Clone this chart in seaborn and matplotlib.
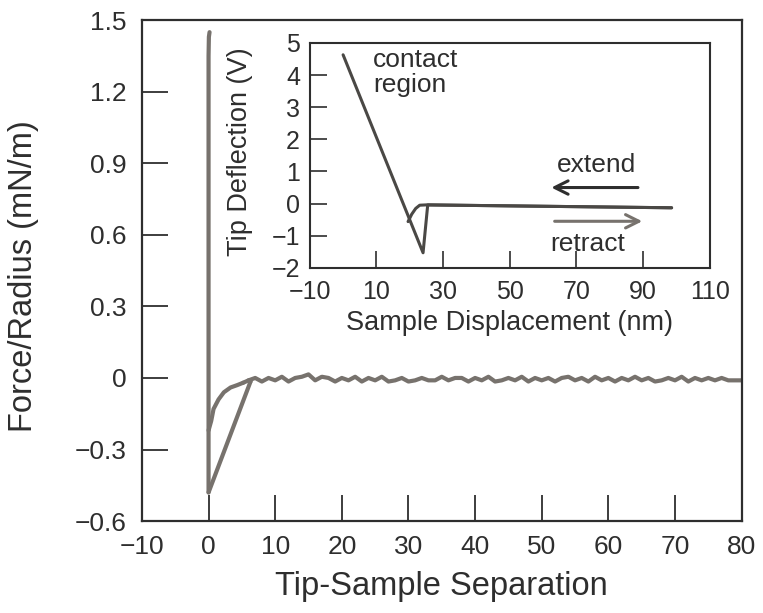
import matplotlib
matplotlib.use("Agg")
import matplotlib.pyplot as plt
import numpy as np
import pandas as pd
import seaborn as sns

sns.set_style("ticks")
plt.rcParams['font.family'] = ['Liberation Sans', 'DejaVu Sans']

# ---------------- main chart data ----------------
contact_x = [0.15, 0.05, 0.0, 0.0]
contact_y = [1.45, 1.43, 1.35, -0.48]
retract_x = [0.0, 6.3]
retract_y = [-0.48, -0.015]
extend_x = [0.0, 0.2, 0.4, 0.75, 1.5, 2.3, 3.3, 4.3, 5.2]
extend_y = [-0.22, -0.20, -0.18, -0.13, -0.09, -0.06, -0.04, -0.03, -0.02]
noise_x = list(range(6, 81))
noise_y = [-0.01, 0.0, -0.015, 0.0, -0.01, 0.005, -0.015, 0.0, 0.005, 0.015,
           -0.01, 0.005, 0.0, -0.015, 0.0, -0.01, 0.005, -0.015, 0.0, -0.01,
           0.005, -0.015, -0.01, 0.0, -0.015, -0.01, 0.0, -0.01, -0.01, 0.005,
           -0.01, 0.0, 0.0, -0.015, 0.0, -0.01, 0.005, -0.015, -0.01, 0.0,
           -0.01, 0.005, -0.015, 0.0, -0.01, 0.0, -0.015, 0.0, 0.005, -0.01,
           0.0, -0.015, 0.005, -0.01, 0.0, -0.015, 0.0, -0.01, 0.005, -0.01,
           0.0, -0.015, -0.01, 0.0, -0.01, 0.005, -0.015, 0.0, -0.01, 0.0,
           -0.01, 0.0, -0.01, -0.01, -0.01]
main_xticks = [-10, 0, 10, 20, 30, 40, 50, 60, 70, 80]
main_xtick_labels = ["\u221210", "0", "10", "20", "30", "40", "50", "60", "70", "80"]
main_yticks = [-0.6, -0.3, 0, 0.3, 0.6, 0.9, 1.2, 1.5]
main_ytick_labels = ["\u22120.6", "\u22120.3", "0", "0.3", "0.6", "0.9", "1.2", "1.5"]
main_xlabel = "Tip-Sample Separation"
main_ylabel = "Force/Radius (mN/m)"

# ---------------- inset data ----------------
in_retract_x = [0.0, 24.0, 25.4, 98.6]
in_retract_y = [4.63, -1.53, -0.04, -0.13]
in_extend_x = [98.6, 25.0, 23.0, 21.8, 20.6, 19.5]
in_extend_y = [-0.13, -0.04, -0.05, -0.15, -0.33, -0.56]
in_xticks = [-10, 10, 30, 50, 70, 90, 110]
in_xtick_labels = ["\u221210", "10", "30", "50", "70", "90", "110"]
in_yticks = [-2, -1, 0, 1, 2, 3, 4, 5]
in_ytick_labels = ["\u22122", "\u22121", "0", "1", "2", "3", "4", "5"]
in_xlabel = "Sample Displacement (nm)"
in_ylabel = "Tip Deflection (V)"

line_gray = "#77726d"
dark = "#2e2e2e"
inset_line = "#4a4845"

fig = plt.figure(figsize=(7.63, 6.13), dpi=100)
ax = fig.add_axes([0.186, 0.150, 0.786, 0.817])

def seg(a, xs, ys, color, lw):
    df = pd.DataFrame({"x": xs, "y": ys})
    sns.lineplot(data=df, x="x", y="y", sort=False, estimator=None, ax=a,
                 color=color, linewidth=lw, solid_joinstyle="round", solid_capstyle="round")

seg(ax, contact_x, contact_y, line_gray, 3.0)
seg(ax, retract_x, retract_y, line_gray, 3.0)
seg(ax, extend_x, extend_y, line_gray, 3.0)
seg(ax, [retract_x[-1]] + noise_x, [retract_y[-1]] + noise_y, line_gray, 3.0)
seg(ax, [extend_x[-1], noise_x[0]], [extend_y[-1], noise_y[0]], line_gray, 3.0)

ax.set_xlim(-10, 80)
ax.set_ylim(-0.6, 1.5)
ax.set_xticks(main_xticks)
ax.set_xticklabels(main_xtick_labels)
ax.set_yticks(main_yticks)
ax.set_yticklabels(main_ytick_labels)
ax.tick_params(direction="in", length=19, width=1.3, labelsize=19, pad=10,
               colors=dark, labelcolor=dark)
ax.tick_params(axis="y", pad=11)
ax.set_xlabel(main_xlabel, fontsize=23.5, color=dark, labelpad=9)
ax.set_ylabel(main_ylabel, fontsize=23.5, color=dark)
ax.yaxis.set_label_coords(-0.172, 0.489)
for s in ax.spines.values():
    s.set_visible(True)
    s.set_linewidth(1.6)
    s.set_color(dark)

# ---------------- inset ----------------
ax2 = fig.add_axes([0.406, 0.563, 0.524, 0.367])
seg(ax2, in_retract_x, in_retract_y, inset_line, 2.2)
seg(ax2, in_extend_x, in_extend_y, inset_line, 2.2)
ax2.set_xlim(-10, 110)
ax2.set_ylim(-2, 5)
ax2.set_xticks(in_xticks)
ax2.set_xticklabels(in_xtick_labels)
ax2.set_yticks(in_yticks)
ax2.set_yticklabels(in_ytick_labels)
ax2.tick_params(direction="in", length=12, width=1.2, labelsize=18, pad=9,
                colors=dark, labelcolor=dark)
ax2.tick_params(axis="y", pad=7)
ax2.set_xlabel(in_xlabel, fontsize=19.5, color=dark, labelpad=4)
ax2.set_ylabel(in_ylabel, fontsize=19.5, color=dark)
ax2.yaxis.set_label_coords(-0.1425, 0.516)
for s in ax2.spines.values():
    s.set_visible(True)
    s.set_linewidth(1.5)
    s.set_color(dark)

ax2.text(9, 4.85, "contact\nregion", fontsize=19, color=dark, va="top", ha="left",
         linespacing=1.05)
ax2.text(76, 1.2, "extend", fontsize=19, color=dark, va="center", ha="center")
ax2.text(73.5, -1.25, "retract", fontsize=19, color=dark, va="center", ha="center")
ax2.annotate("", xy=(62.5, 0.5), xytext=(88.5, 0.5),
             arrowprops=dict(arrowstyle="->", color=dark, lw=2.2,
                             mutation_scale=24, shrinkA=0, shrinkB=0))
ax2.annotate("", xy=(89.8, -0.55), xytext=(63.5, -0.55),
             arrowprops=dict(arrowstyle="->", color=line_gray, lw=2.2,
                             mutation_scale=24, shrinkA=0, shrinkB=0))

fig.savefig("out.png", dpi=100)
